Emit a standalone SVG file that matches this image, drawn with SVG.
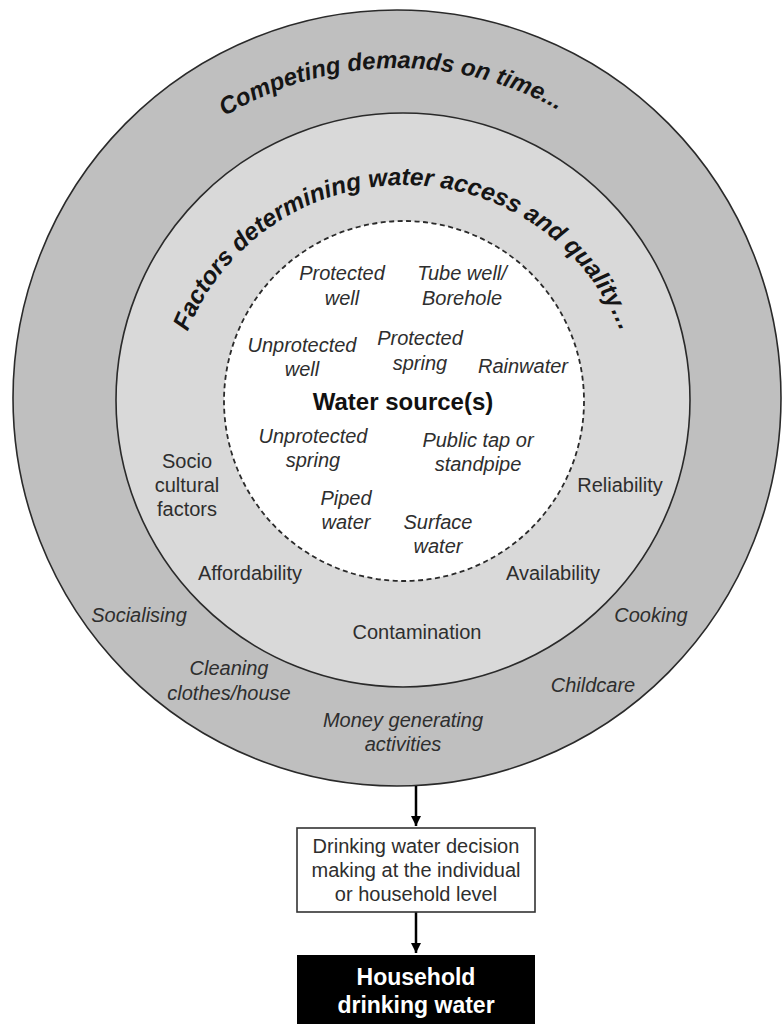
<svg xmlns="http://www.w3.org/2000/svg" width="782" height="1026" viewBox="0 0 782 1026">
<defs>
<style>
.ring{stroke:#2a2a2a;stroke-width:1.6}
.arc{font-family:"Liberation Sans",Arial,sans-serif;font-weight:bold;font-style:italic;font-size:24px;fill:#151515}
.arc2{font-family:"Liberation Sans",Arial,sans-serif;font-weight:bold;font-style:italic;font-size:24.5px;fill:#151515}
.it{font-family:"Liberation Sans",Arial,sans-serif;font-style:italic;font-size:20px;fill:#2e2e2e;text-anchor:middle}
.rg{font-family:"Liberation Sans",Arial,sans-serif;font-size:20px;fill:#2e2e2e;text-anchor:middle}
.bd{font-family:"Liberation Sans",Arial,sans-serif;font-weight:bold;font-size:24px;fill:#111;text-anchor:middle}
.wt{font-family:"Liberation Sans",Arial,sans-serif;font-weight:bold;font-size:23px;fill:#fff;text-anchor:middle}
.conn{stroke:#000;stroke-width:2.5;fill:none}
</style>
<marker id="ah" markerWidth="12" markerHeight="12" refX="10" refY="5" orient="auto" markerUnits="userSpaceOnUse">
<path d="M0,0 L10,5 L0,10 Z" fill="#000"/>
</marker>
<path id="outerArc" d="M 67,398 A 330 330 0 0 1 727,398"/>
<path id="midArc" d="M 171,418 A 233 233 0 0 1 637,418"/>
</defs>
<rect width="782" height="1026" fill="#fff"/>

<g id="outer-ring">
<ellipse class="ring" cx="397" cy="398" rx="384" ry="388" fill="#bfbfbf"/>
<text class="arc"><textPath href="#outerArc" startOffset="49.4%" text-anchor="middle">Competing demands on time...</textPath></text>
<text class="it" x="139" y="622">Socialising</text>
<text class="it" x="651" y="622">Cooking</text>
<text class="it" x="229" y="675">Cleaning</text>
<text class="it" x="229" y="700">clothes/house</text>
<text class="it" x="593" y="692">Childcare</text>
<text class="it" x="403" y="727">Money generating</text>
<text class="it" x="403" y="751">activities</text>
</g>

<g id="middle-ring">
<circle class="ring" cx="403" cy="400" r="287" fill="#d9d9d9"/>
<text class="arc2"><textPath href="#midArc" startOffset="88.3">Factors</textPath></text>
<text class="arc2"><textPath href="#midArc" startOffset="183.6">determining</textPath></text>
<text class="arc2"><textPath href="#midArc" startOffset="330.6">water</textPath></text>
<text class="arc2"><textPath href="#midArc" startOffset="401.4">access</textPath></text>
<text class="arc2"><textPath href="#midArc" startOffset="490">and</textPath></text>
<text class="arc2"><textPath href="#midArc" startOffset="540.3">quality…</textPath></text>
<text class="rg" x="187" y="468">Socio</text>
<text class="rg" x="187" y="492">cultural</text>
<text class="rg" x="187" y="516">factors</text>
<text class="rg" x="620" y="492">Reliability</text>
<text class="rg" x="250" y="580">Affordability</text>
<text class="rg" x="553" y="580">Availability</text>
<text class="rg" x="417" y="639">Contamination</text>
</g>

<g id="water-sources">
<circle cx="404" cy="401" r="180" fill="#fff" stroke="#2a2a2a" stroke-width="1.8" stroke-dasharray="5,3.5"/>
<text class="bd" x="403" y="410">Water source(s)</text>
<text class="it" x="342" y="280">Protected</text>
<text class="it" x="342" y="305">well</text>
<text class="it" x="462" y="280">Tube well/</text>
<text class="it" x="462" y="305">Borehole</text>
<text class="it" x="302" y="352">Unprotected</text>
<text class="it" x="302" y="376">well</text>
<text class="it" x="420" y="345">Protected</text>
<text class="it" x="420" y="370">spring</text>
<text class="it" x="523" y="373">Rainwater</text>
<text class="it" x="313" y="443">Unprotected</text>
<text class="it" x="313" y="467">spring</text>
<text class="it" x="478" y="447">Public tap or</text>
<text class="it" x="478" y="471">standpipe</text>
<text class="it" x="346" y="505">Piped</text>
<text class="it" x="346" y="529">water</text>
<text class="it" x="438" y="529">Surface</text>
<text class="it" x="438" y="553">water</text>
</g>

<g id="connectors">
<line class="conn" x1="416" y1="786" x2="416" y2="826" marker-end="url(#ah)"/>
<line class="conn" x1="416" y1="912" x2="416" y2="953" marker-end="url(#ah)"/>
</g>

<g id="decision">
<rect x="297" y="828" width="238" height="84" fill="#fff" stroke="#333" stroke-width="1.6"/>
<text class="rg" x="416" y="853" font-size="19.5">Drinking water decision</text>
<text class="rg" x="416" y="877" font-size="19.5">making at the individual</text>
<text class="rg" x="416" y="901" font-size="19.5">or household level</text>
</g>

<g id="household">
<rect x="297" y="955" width="238" height="69" fill="#000"/>
<text class="wt" x="416" y="985">Household</text>
<text class="wt" x="416" y="1013">drinking water</text>
</g>
</svg>
